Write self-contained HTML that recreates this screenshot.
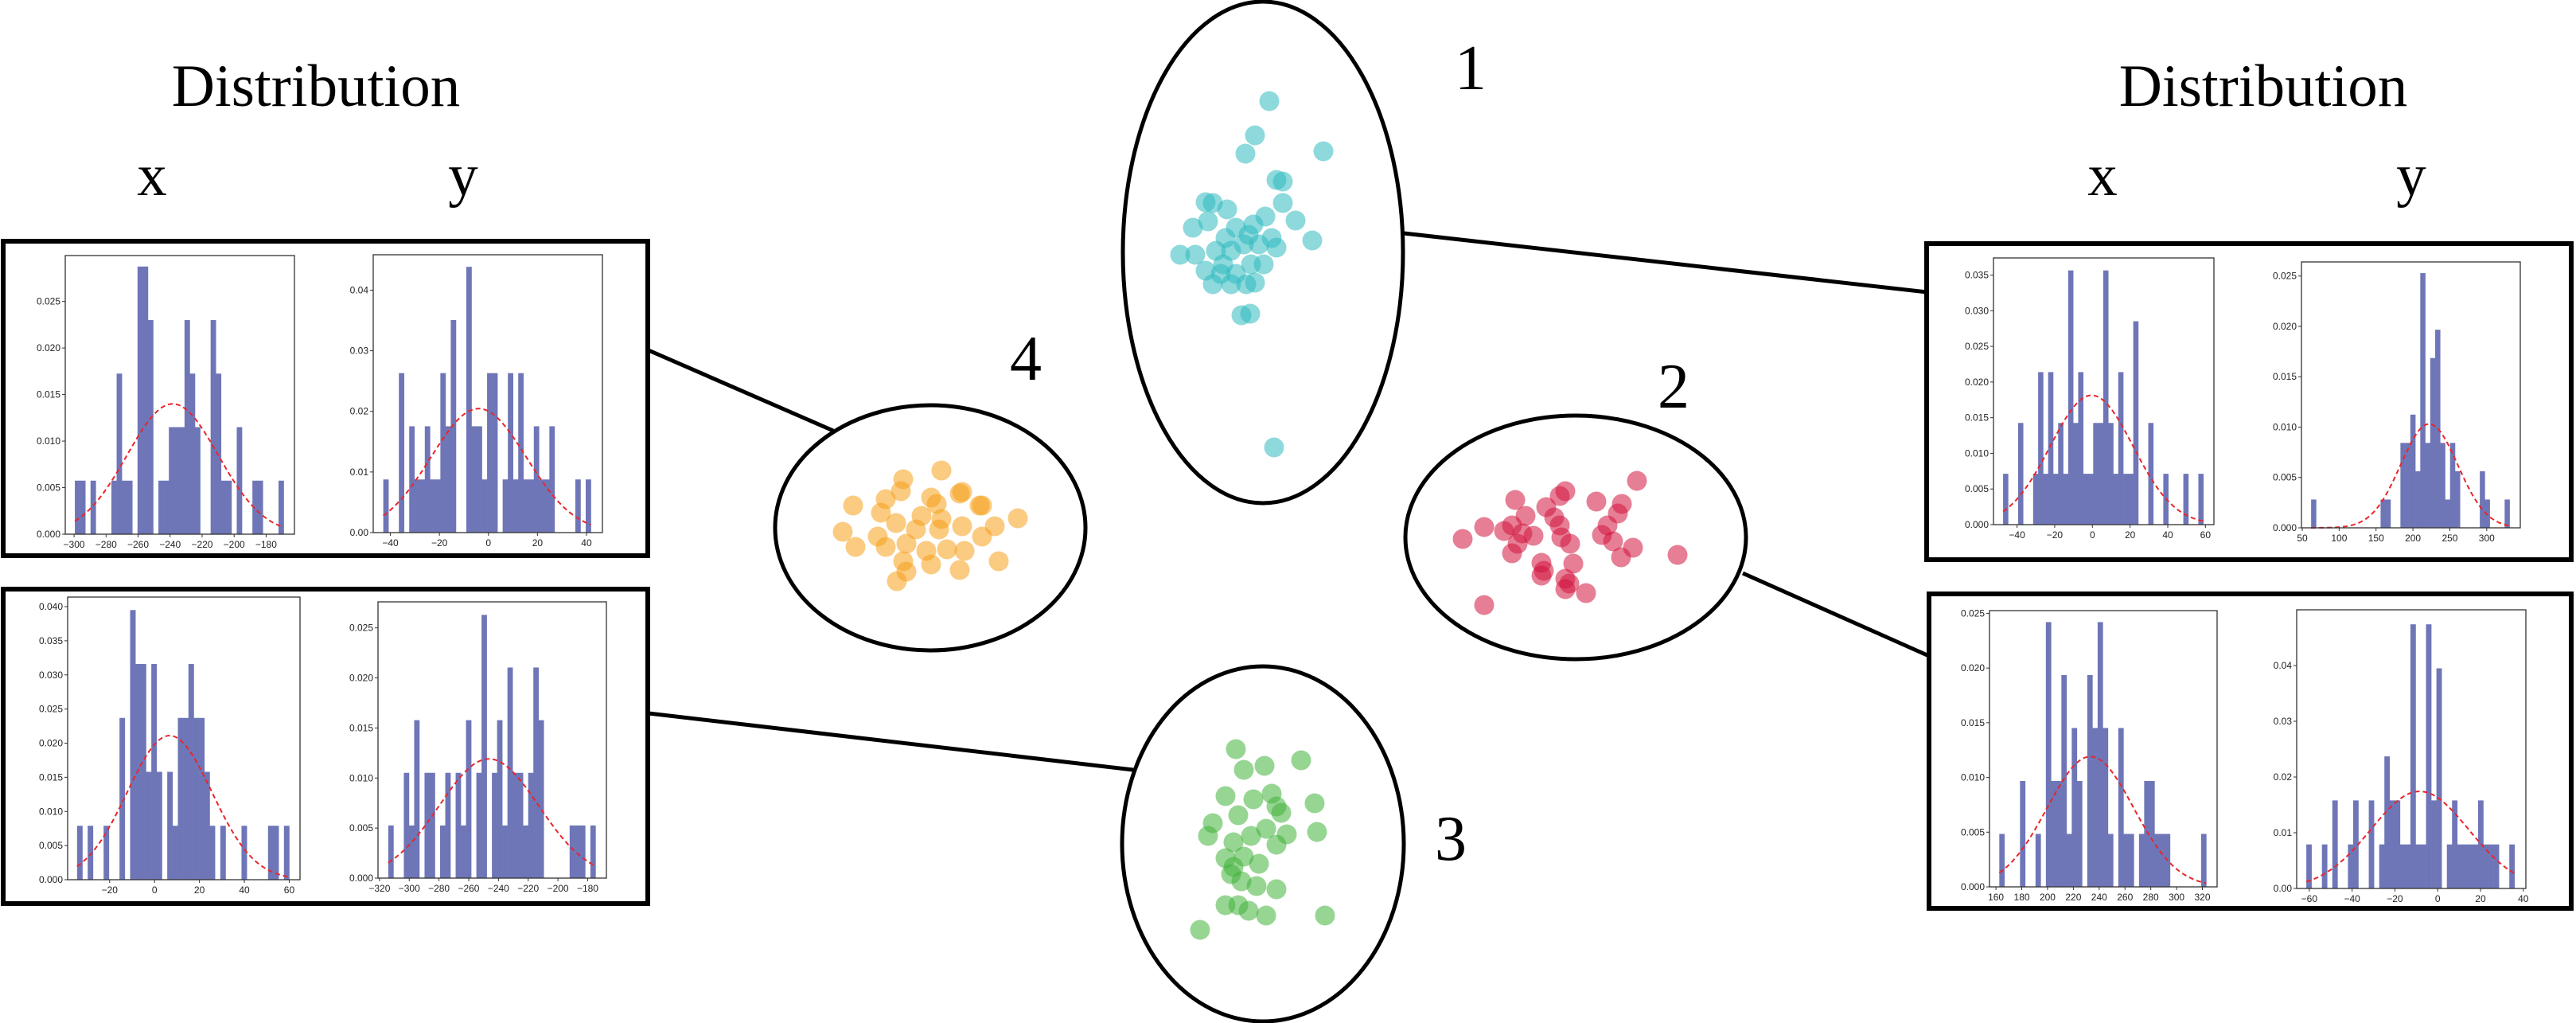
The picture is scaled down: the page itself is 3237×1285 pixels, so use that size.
<!DOCTYPE html>
<html><head><meta charset="utf-8">
<style>
html,body{margin:0;padding:0;background:#fff;}
svg{display:block;}
.t{font-family:"Liberation Serif",serif;fill:#000;}
.tk{font-family:"Liberation Sans",sans-serif;font-size:12px;fill:#222;}
</style></head>
<body>
<svg id="fig" width="3237" height="1285" viewBox="0 0 3237 1285" xmlns="http://www.w3.org/2000/svg">
  <rect x="0" y="0" width="3237" height="1285" fill="#fff"/>
  <text class="t" x="397" y="133" font-size="75" text-anchor="middle">Distribution</text>
  <text class="t" x="191" y="245" font-size="75" text-anchor="middle">x</text>
  <text class="t" x="582" y="245" font-size="75" text-anchor="middle">y</text>
  <text class="t" x="2844" y="133" font-size="75" text-anchor="middle">Distribution</text>
  <text class="t" x="2642" y="245" font-size="75" text-anchor="middle">x</text>
  <text class="t" x="3030" y="245" font-size="75" text-anchor="middle">y</text>

  <text class="t" x="1848" y="112" font-size="80" text-anchor="middle">1</text>
  <text class="t" x="1289" y="477" font-size="80" text-anchor="middle">4</text>
  <text class="t" x="2103" y="512" font-size="80" text-anchor="middle">2</text>
  <text class="t" x="1823" y="1080" font-size="80" text-anchor="middle">3</text>

  <g stroke="#000" stroke-width="5" fill="none">
    <line x1="815" y1="440" x2="1047" y2="541"/>
    <line x1="1764" y1="293" x2="2422" y2="367"/>
    <line x1="2190" y1="720" x2="2424" y2="824"/>
    <line x1="815" y1="896" x2="1424" y2="967"/>
  </g>

  <g fill="#fff" stroke="#000" stroke-width="5">
    <ellipse cx="1587" cy="317" rx="176" ry="315"/>
    <ellipse cx="1169" cy="663" rx="195" ry="154"/>
    <ellipse cx="1980" cy="675" rx="214" ry="153"/>
    <ellipse cx="1587" cy="1060" rx="177" ry="223"/>
  </g>

  <g fill="#fff" stroke="#000" stroke-width="6">
    <rect x="4" y="303" width="810" height="395"/>
    <rect x="4" y="740" width="810" height="395"/>
    <rect x="2421" y="306" width="810" height="397"/>
    <rect x="2424" y="746" width="807" height="395"/>
  </g>
  <g id="hists"></g>
  <g id="points"></g>
</svg>
<script>
// ---------- histogram data (counts per bin; 40 equal bins) ----------
const countsA = [1,1,0,1,0,0,0,1,3,1,1,0,5,5,4,0,1,1,2,2,2,4,3,2,0,0,4,3,1,1,0,2,0,0,1,1,0,0,0,1];
const countsB = [1,0,0,3,0,2,1,1,2,1,1,3,2,4,0,0,5,2,2,1,3,3,0,1,3,1,3,1,1,2,1,1,2,0,0,0,0,1,0,1];
const countsC = [1,0,1,0,0,1,0,0,3,0,5,4,4,2,4,2,0,2,1,3,3,4,3,3,2,1,0,1,0,0,0,1,0,0,0,0,1,1,0,1];
const countsD = [1,0,0,2,1,3,0,2,2,0,1,2,0,2,1,3,0,2,5,0,2,3,1,4,2,2,1,2,4,3,0,0,0,0,0,1,1,1,0,1];
const countsE = [1,0,0,2,0,0,1,3,1,3,1,2,1,5,2,3,1,1,2,2,5,2,1,3,1,1,4,0,0,2,0,0,1,0,0,0,1,0,0,1];
const countsF = [1,0,0,0,0,0,0,0,0,0,0,0,0,0,1,1,0,0,3,3,4,2,9,3,6,7,3,1,3,2,0,0,0,0,2,1,0,0,0,1];
const countsG = [1,0,0,0,2,0,0,1,0,5,2,2,4,1,3,2,0,4,3,5,3,1,0,3,1,1,0,1,2,2,1,1,1,0,0,0,0,0,0,1];
const countsH = [1,0,0,1,0,2,0,0,1,2,0,0,2,0,1,3,2,2,1,1,6,1,1,6,2,5,0,1,2,1,1,1,1,2,1,1,1,0,0,1];
// density of one sample in a bin
const unitDensity = [0.00575,0.00877,0.0079,0.00526,0.00713,0.00281,0.00484,0.0079];
// data range covered by bins [start, end]
const binRanges = [[-299.5,-169],[-42.9,41.8],[-34.5,60],[-314.1,-174.7],[-47.4,58.9],[62,331],[162.6,323],[-61.4,35.9]];
// x axis domain, y axis max
const xDomains = [[-305.5,-162.3],[-47,46.5],[-38.7,64.8],[-321,-167.4],[-52.5,64.5],[48.9,345.5],[155,331.4],[-65.9,41.2]];
const yMaxes = [0.02993,0.04584,0.0414,0.0276,0.0374,0.0264,0.02525,0.05];
// fitted normal (mean, sd)
const fitMeans = [-238.4,-4,6.7,-246.4,-0.4,222,233.2,-8.4];
const fitSds = [28.5,19.5,18.9,33.5,22,38.7,33.5,22.9];
// tick labels
const xTicks = [[-300,-280,-260,-240,-220,-200,-180],[-40,-20,0,20,40],[-20,0,20,40,60],[-320,-300,-280,-260,-240,-220,-200,-180],[-40,-20,0,20,40,60],[50,100,150,200,250,300],[160,180,200,220,240,260,280,300,320],[-60,-40,-20,0,20,40]];
const yTicks = [[0,0.005,0.010,0.015,0.020,0.025],[0,0.01,0.02,0.03,0.04],[0,0.005,0.010,0.015,0.020,0.025,0.030,0.035,0.040],[0,0.005,0.010,0.015,0.020,0.025],[0,0.005,0.010,0.015,0.020,0.025,0.030,0.035],[0,0.005,0.010,0.015,0.020,0.025],[0,0.005,0.010,0.015,0.020,0.025],[0,0.01,0.02,0.03,0.04]];
const yDecimals = [3,2,3,3,3,3,3,2];
const histNames = ['cluster4-x','cluster4-y','cluster3-x','cluster3-y','cluster1-x','cluster1-y','cluster2-x','cluster2-y'];
const allCounts = [countsA,countsB,countsC,countsD,countsE,countsF,countsG,countsH];

// layout (pixel frames of each axes) -- not data
const frames = [
  [82,321,370,671],[469,320,757,669],
  [85,750,377,1105],[475,756,762,1103],
  [2505,324,2782,659],[2892,329,3167,663],
  [2500,767,2786,1114],[2886,766,3174,1116]
];

const NS = 'http://www.w3.org/2000/svg';
function mk(tag, attrs, parent){
  const e = document.createElementNS(NS, tag);
  for (const k in attrs) e.setAttribute(k, attrs[k]);
  parent.appendChild(e);
  return e;
}
function fmt(v, d){ const s = v.toFixed(d); return s.replace('-', '\u2212'); }

const hg = document.getElementById('hists');
for (let p = 0; p < 8; p++) {
  const [X0,Y0,X1,Y1] = frames[p];
  const [dx0,dx1] = xDomains[p];
  const ymax = yMaxes[p];
  const sx = v => X0 + (v - dx0) / (dx1 - dx0) * (X1 - X0);
  const sy = v => Y1 - v / ymax * (Y1 - Y0);
  const g = mk('g', {}, hg);
  
  
  const counts = allCounts[p];
  const [b0,b1] = binRanges[p];
  const bw = (b1 - b0) / counts.length;
  for (let i = 0; i < counts.length; i++) {
    if (!counts[i]) continue;
    const d = counts[i] * unitDensity[p];
    const xa = sx(b0 + i*bw), xb = sx(b0 + (i+1)*bw);
    const r = mk('rect', {x: xa, y: sy(d), width: xb - xa + 0.3, height: sy(0) - sy(d), fill: '#6e76b7'}, g);
    
    
  }
  // normal fit curve
  let pts = [];
  const m = fitMeans[p], s = fitSds[p];
  for (let k = 0; k <= 120; k++) {
    const v = b0 + (b1 - b0) * k / 120;
    const dens = Math.exp(-0.5*((v-m)/s)**2) / (s*Math.sqrt(2*Math.PI));
    pts.push(sx(v).toFixed(1) + ',' + sy(dens).toFixed(1));
  }
  const pl = mk('polyline', {points: pts.join(' '), fill: 'none', stroke: '#e8262a', 'stroke-width': 2, 'stroke-dasharray': '6,4'}, g);
  
  
  // frame
  const fr = mk('rect', {x: X0, y: Y0, width: X1 - X0, height: Y1 - Y0, fill: 'none', stroke: '#333', 'stroke-width': 1.3}, g);
  
  
  // x ticks
  xTicks[p].forEach(t => {
    const x = sx(t);
    mk('line', {x1: x, y1: Y1, x2: x, y2: Y1 + 4, stroke: '#333', 'stroke-width': 1}, g);
    const tx = mk('text', {x: x, y: Y1 + 17, class: 'tk', 'text-anchor': 'middle'}, g);
    tx.textContent = fmt(t, 0);
    
    
  });
  // y ticks
  yTicks[p].forEach(t => {
    const y = sy(t);
    mk('line', {x1: X0 - 4, y1: y, x2: X0, y2: y, stroke: '#333', 'stroke-width': 1}, g);
    const ty = mk('text', {x: X0 - 6, y: y + 4, class: 'tk', 'text-anchor': 'end'}, g);
    ty.textContent = fmt(t, yDecimals[p]);
    
    
  });
}

// ---------- scatter cluster points ----------
const cluster1X = [1595,1577,1565,1663,1604,1612,1612,1628,1649,1515,1524,1542,1499,1518,1553,1575,1590,1598,1604,1483,1502,1528,1547,1563,1582,1588,1572,1515,1534,1553,1524,1547,1566,1577,1537,1560,1571,1601,1540,1569];
const cluster1Y = [127,170,193,190,226,228,255,277,302,254,255,263,286,278,286,282,272,299,311,320,320,315,315,307,307,332,332,340,344,344,357,357,357,355,332,396,394,562,299,295];
const cluster4X = [1183,1135,1072,1113,1170,1209,1231,1279,1107,1132,1177,1206,1234,1059,1075,1103,1126,1151,1180,1209,1250,1234,1113,1139,1164,1190,1212,1135,1170,1206,1255,1139,1127,1183,1158];
const cluster4Y = [591,602,635,627,625,618,635,651,644,617,633,620,635,668,687,674,657,665,665,661,661,674,687,683,692,690,692,705,709,716,705,718,730,652,648];
const cluster2X = [2057,1904,1967,1960,1943,2006,2038,2033,1865,1838,1917,1900,1913,1927,1907,1900,1960,1962,1973,2013,2020,2027,2052,2037,2108,1977,1937,1940,1937,1967,1972,1967,1993,1865,1890,1953];
const cluster2Y = [604,628,617,623,637,630,633,645,662,677,648,660,670,673,683,695,660,675,683,672,660,680,688,700,697,708,707,717,723,727,733,740,745,760,667,650];
const cluster3X = [1553,1563,1589,1635,1540,1575,1598,1604,1652,1556,1610,1524,1518,1591,1617,1655,1550,1572,1604,1540,1563,1582,1547,1560,1579,1604,1540,1556,1569,1591,1665,1508,1550];
const cluster3Y = [941,967,962,955,1000,1004,997,1013,1009,1024,1021,1034,1050,1041,1048,1045,1058,1050,1061,1078,1076,1085,1098,1107,1113,1117,1137,1137,1144,1150,1150,1168,1089];
const clusterColors = ['#2fb9bf','#f5a01a','#d2143e','#42b23b'];
const clusterXs = [cluster1X, cluster4X, cluster2X, cluster3X];
const clusterYs = [cluster1Y, cluster4Y, cluster2Y, cluster3Y];
const clusterNames = ['cluster-1','cluster-4','cluster-2','cluster-3'];
const pg = document.getElementById('points');
for (let c = 0; c < 4; c++) {
  const g = mk('g', {}, pg);
  
  
  for (let i = 0; i < clusterXs[c].length; i++) {
    const pt = mk('circle', {cx: clusterXs[c][i], cy: clusterYs[c][i], r: 12.5, fill: clusterColors[c], 'fill-opacity': 0.55}, g);
    
    
  }
}
</script>
</body></html>
